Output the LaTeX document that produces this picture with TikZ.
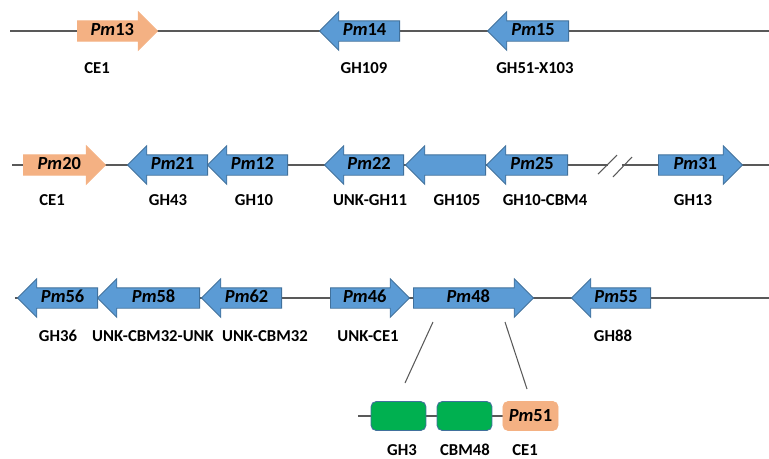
\documentclass[tikz,border=0pt]{standalone}
\usepackage{fontspec}
\setmainfont{Carlito}
\usetikzlibrary{shapes.arrows}
\definecolor{geneblue}{HTML}{5B9BD5}
\definecolor{geneedge}{HTML}{41719C}
\definecolor{ceorange}{HTML}{F4B183}
\definecolor{ghgreen}{HTML}{00B050}
\definecolor{bbgray}{HTML}{595959}
\tikzstyle{gene} = [single arrow, single arrow head extend=0.18cm, minimum width=0.76cm, inner xsep=0pt, inner ysep=1.3pt, text height=7pt, text depth=1.5pt, draw=geneedge, fill=geneblue, line width=0.5pt, font=\fontsize{10.5}{12}\selectfont\bfseries]
\tikzstyle{fwd} = [gene, anchor=tail]
\tikzstyle{rev} = [gene, shape border rotate=180, anchor=tail]
\tikzstyle{ce} = [fill=ceorange, draw=ceorange]
\tikzstyle{dombox} = [rectangle, rounded corners=3pt, minimum width=1.1cm, minimum height=0.58cm, draw=geneedge, fill=ghgreen, line width=0.5pt, font=\fontsize{10.5}{12}\selectfont\bfseries]
\tikzstyle{fam} = [font=\fontsize{9.5}{11}\selectfont\bfseries]
\tikzstyle{backbone} = [draw=bbgray, line width=0.6pt]
\newcommand{\pmid}[1]{\textit{Pm}#1}

\begin{document}
\begin{tikzpicture}[x=0.02cm, y=-0.02cm]
    \useasboundingbox (0,0) rectangle (769,458);

    % row 1
    \coordinate (r1w) at (10,31);
    \coordinate (r1e) at (769,31);
    \draw [backbone] (r1w) -- (r1e);
    \node (pm13) [fwd, ce, minimum height=1.6cm] at (77,31) {\pmid{13}};
    \node (pm14) [rev, minimum height=1.6cm] at (400,31) {\pmid{14}};
    \node (pm15) [rev, minimum height=1.62cm] at (569,31) {\pmid{15}};
    \node (l13) [fam] at (97,68) {CE1};
    \node (l14) [fam] at (364,68) {GH109};
    \node (l15) [fam] at (535,68) {GH51-X103};

    % row 2
    \coordinate (r2w) at (12,165);
    \coordinate (r2a) at (608,165);
    \coordinate (r2b) at (622,165);
    \coordinate (r2e) at (769,165);
    \draw [backbone] (r2w) -- (r2a);
    \draw [backbone] (r2b) -- (r2e);
    \draw [backbone] (598,174) -- (617,155);
    \draw [backbone] (613,177) -- (632,157);
    \node (pm20) [fwd, ce, minimum height=1.64cm] at (23,165) {\pmid{20}};
    \node (pm21) [rev, minimum height=1.6cm] at (208,165) {\pmid{21}};
    \node (pm12) [rev, minimum height=1.6cm] at (288,165) {\pmid{12}};
    \node (pm22) [rev, minimum height=1.58cm] at (404,165) {\pmid{22}};
    \node (gh105) [rev, minimum height=1.6cm] at (486,165) {};
    \node (pm25) [rev, minimum height=1.62cm] at (568,165) {\pmid{25}};
    \node (pm31) [fwd, minimum height=1.68cm] at (658,165) {\pmid{31}};
    \node (l20) [fam] at (52,200) {CE1};
    \node (l21) [fam] at (168,200) {GH43};
    \node (l12) [fam] at (254,200) {GH10};
    \node (l22) [fam] at (370,200) {UNK-GH11};
    \node (l105) [fam] at (457,200) {GH105};
    \node (l25) [fam] at (545,200) {GH10-CBM4};
    \node (l31) [fam] at (693,200) {GH13};

    % row 3
    \coordinate (r3w) at (15,298);
    \coordinate (r3e) at (769,298);
    \draw [backbone] (r3w) -- (r3e);
    \node (pm56) [rev, minimum height=1.6cm] at (98,298) {\pmid{56}};
    \node (pm58) [rev, minimum height=2.04cm] at (200,298) {\pmid{58}};
    \node (pm62) [rev, minimum height=1.6cm] at (282,298) {\pmid{62}};
    \node (pm46) [fwd, minimum height=1.58cm] at (330,298) {\pmid{46}};
    \node (pm48) [fwd, minimum height=2.4cm] at (413,298) {\pmid{48}};
    \node (pm55) [rev, minimum height=1.58cm] at (651,298) {\pmid{55}};
    \node (l56) [fam] at (58,336) {GH36};
    \node (l58) [fam] at (153,336) {UNK-CBM32-UNK};
    \node (l62) [fam] at (265,336) {UNK-CBM32};
    \node (l46) [fam] at (368,336) {UNK-CE1};
    \node (l55) [fam] at (613,336) {GH88};

    % Pm48 domains
    \coordinate (dw) at (358,416);
    \coordinate (de) at (503,416);
    \draw [backbone] (dw) -- (de);
    \node (gh3) [dombox] at (398.5,416) {};
    \node (cbm48) [dombox] at (464.5,416) {};
    \node (pm51) [dombox, ce] at (530.5,416) {\pmid{51}};
    \coordinate (z1) at (433,322);
    \coordinate (z2) at (405,383);
    \coordinate (z3) at (505,322);
    \coordinate (z4) at (527,389);
    \draw [backbone] (z1) -- (z2);
    \draw [backbone] (z3) -- (z4);
    \node (l3) [fam] at (402,450) {GH3};
    \node (l48) [fam] at (465,450) {CBM48};
    \node (l51) [fam] at (525,450) {CE1};
\end{tikzpicture}
\end{document}
